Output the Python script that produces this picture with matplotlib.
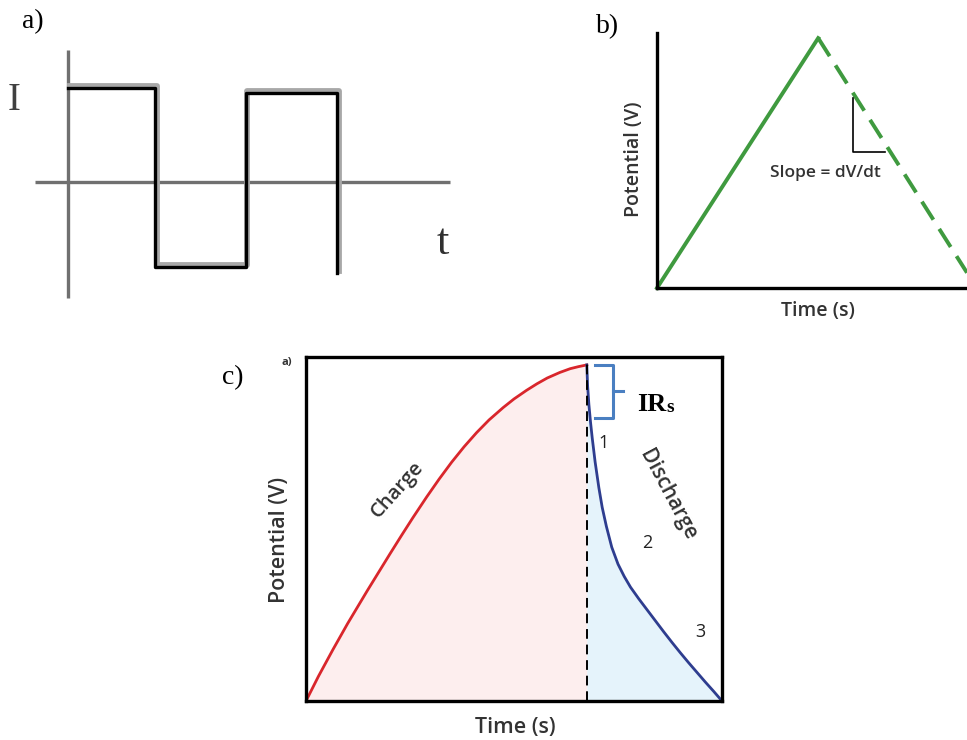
import matplotlib
matplotlib.use('Agg')
import matplotlib.pyplot as plt
import matplotlib.patheffects as pe

# 画布尺寸 (像素)
W, H = 967, 740

# a) 方波电流
wave_edges = [0, 0.97, 1.98, 3.0]
wave_levels = [1.05, -0.94, 0.99, -1.01]
t_axis_span = [-0.37, 4.26]
i_axis_span = [-1.29, 1.47]

# b) 三角波电位
b_time = [0, 0.52]
b_potential = [0, 0.98]
b_time_down = [0.52, 1.0]
b_potential_down = [0.98, 0.06]
slope_x = [0.632, 0.632, 0.735]
slope_y = [0.745, 0.533, 0.533]

# c) 充放电曲线
charge_t = [0, 0.03, 0.065, 0.10, 0.147, 0.175, 0.202, 0.23, 0.257, 0.29, 0.32, 0.35,
            0.38, 0.41, 0.44, 0.474, 0.50, 0.53, 0.555, 0.58, 0.61, 0.635, 0.655, 0.675]
charge_v = [0, 0.072, 0.150, 0.225, 0.320, 0.375, 0.428, 0.482, 0.533, 0.593, 0.645, 0.694,
            0.739, 0.780, 0.817, 0.853, 0.878, 0.903, 0.922, 0.939, 0.955, 0.966, 0.972, 0.977]
discharge_t = [0.675, 0.677, 0.680, 0.684, 0.688, 0.695, 0.704, 0.712, 0.722, 0.735, 0.750,
               0.765, 0.780, 0.800, 0.820, 0.840, 0.860, 0.880, 0.900, 0.920, 0.940, 0.960,
               0.980, 1.0]
discharge_v = [0.977, 0.915, 0.862, 0.810, 0.765, 0.695, 0.620, 0.563, 0.508, 0.447, 0.398,
               0.362, 0.331, 0.297, 0.265, 0.233, 0.201, 0.170, 0.140, 0.111, 0.083, 0.055,
               0.028, 0.0]
ir_top, ir_bottom = 0.977, 0.823
stage_labels = ['1', '2', '3']
stage_t = [0.716, 0.820, 0.947]
stage_v = [0.750, 0.459, 0.201]

SANS = ['Open Sans', 'DejaVu Sans']
SERIF = ['Liberation Serif', 'DejaVu Serif']
TXT = '#333333'


def rect(l, t, r, b):
    return [l / W, 1 - b / H, (r - l) / W, (b - t) / H]


def fig_label(fig, x, y, s, **kw):
    fig.text(x / W, 1 - y / H, s, ha='center', va='center', **kw)


fig = plt.figure(figsize=(W / 100, H / 100), dpi=100)

# ---------- a) ----------
ax_a = fig.add_axes(rect(30, 40, 460, 305))
ax_a.axis('off')
ax_a.set_xlim(-0.424, 4.37)
ax_a.set_ylim(-1.367, 1.578)
ax_a.plot(t_axis_span, [0, 0], color='#707070', lw=2.4, solid_capstyle='butt')
ax_a.plot([0, 0], i_axis_span, color='#707070', lw=2.4, solid_capstyle='butt')

xs = [wave_edges[0]]
ys = [wave_levels[0]]
for i in range(1, len(wave_edges)):
    xs += [wave_edges[i], wave_edges[i]]
    ys += [wave_levels[i - 1], wave_levels[i]]
ax_a.plot(xs, ys, color='black', lw=2.4,
          path_effects=[pe.Stroke(linewidth=4.2, foreground='#a8a8a8', offset=(1.3, 1.3)),
                        pe.Normal()])

fig_label(fig, 33, 22, 'a)', fontsize=20, family=SERIF)
fig_label(fig, 14, 101, 'I', fontsize=28, family=SERIF, color='#404040')
fig_label(fig, 443, 243, 't', fontsize=32, family=SERIF, color='#303030')

# ---------- b) ----------
ax_b = fig.add_axes(rect(657, 33, 967, 288))
ax_b.set_xlim(0, 1)
ax_b.set_ylim(0, 1)
for side in ['top', 'right']:
    ax_b.spines[side].set_visible(False)
for side in ['left', 'bottom']:
    ax_b.spines[side].set_linewidth(2.4)
ax_b.set_xticks([])
ax_b.set_yticks([])
green = '#3f9a3f'
ax_b.plot(b_time, b_potential, color=green, lw=2.8, clip_on=False)
ax_b.plot(b_time_down, b_potential_down, color=green, lw=2.8, clip_on=False,
          linestyle=(0, (5.5, 2.8)))
ax_b.plot(slope_x, slope_y, color='black', lw=1.2)
ax_b.text(0.542, 0.452, 'Slope = dV/dt', ha='center', va='center', fontsize=12.5,
          family=SANS, fontweight='semibold', color=TXT)
fig_label(fig, 634, 159, 'Potential (V)', fontsize=14, family=SANS, fontweight='semibold',
          rotation=90, color=TXT)
fig_label(fig, 818, 311, 'Time (s)', fontsize=14, family=SANS, fontweight='semibold', color=TXT)
fig_label(fig, 608, 27, 'b)', fontsize=20, family=SERIF)

# ---------- c) ----------
ax_c = fig.add_axes(rect(306, 357, 722, 701))
ax_c.set_xlim(0, 1)
ax_c.set_ylim(0, 1)
for side in ax_c.spines:
    ax_c.spines[side].set_linewidth(2.4)
ax_c.set_xticks([])
ax_c.set_yticks([])

ax_c.fill_between(charge_t, charge_v, 0, color='#fdeeee', lw=0)
ax_c.fill_between(discharge_t, discharge_v, 0, color='#e5f3fb', lw=0)
ax_c.plot(charge_t, charge_v, color='#d9262c', lw=2.0)
ax_c.plot(discharge_t, discharge_v, color='#2e3d8f', lw=2.0)
ax_c.plot([charge_t[-1], charge_t[-1]], [0, 1], color='black', lw=1.4,
          linestyle=(0, (5, 3)))

# IRs 括号
bx0, bx1, bx2 = 0.695, 0.738, 0.762
bmid = (ir_top + ir_bottom) / 2
ax_c.plot([bx0, bx1, bx1, bx0], [ir_top, ir_top, ir_bottom, ir_bottom],
          color='#4a7fc1', lw=2.2, solid_joinstyle='round')
ax_c.plot([bx1, bx2], [bmid, bmid], color='#4a7fc1', lw=2.2)
ir_txt = ax_c.text(0.796, 0.843, 'IR', fontsize=19, fontweight='bold', family=SERIF,
                   va='baseline', ha='left')
ax_c.annotate('s', xy=(1, 0), xycoords=ir_txt, fontsize=14, fontweight='bold',
              family=SERIF, va='bottom', ha='left')

for lab, t, v in zip(stage_labels, stage_t, stage_v):
    ax_c.text(t, v, lab, ha='center', va='center', fontsize=13, family=SANS, color='#222222')

ax_c.text(0.219, 0.613, 'Charge', rotation=48, ha='center', va='center', fontsize=14.5,
          family=SANS, fontweight='semibold', color=TXT)
ax_c.text(0.870, 0.599, 'Discharge', rotation=-62, ha='center', va='center', fontsize=15,
          family=SANS, fontweight='semibold', color=TXT)

fig_label(fig, 280, 540, 'Potential (V)', fontsize=15.5, family=SANS, fontweight='semibold',
          rotation=90, color=TXT)
fig_label(fig, 515, 728, 'Time (s)', fontsize=15.5, family=SANS, fontweight='semibold', color=TXT)
fig_label(fig, 233, 378, 'c)', fontsize=20, family=SERIF)
fig_label(fig, 287, 362, 'a)', fontsize=8, family=SANS, fontweight='bold', color=TXT)

fig.savefig('out.png', dpi=100)
